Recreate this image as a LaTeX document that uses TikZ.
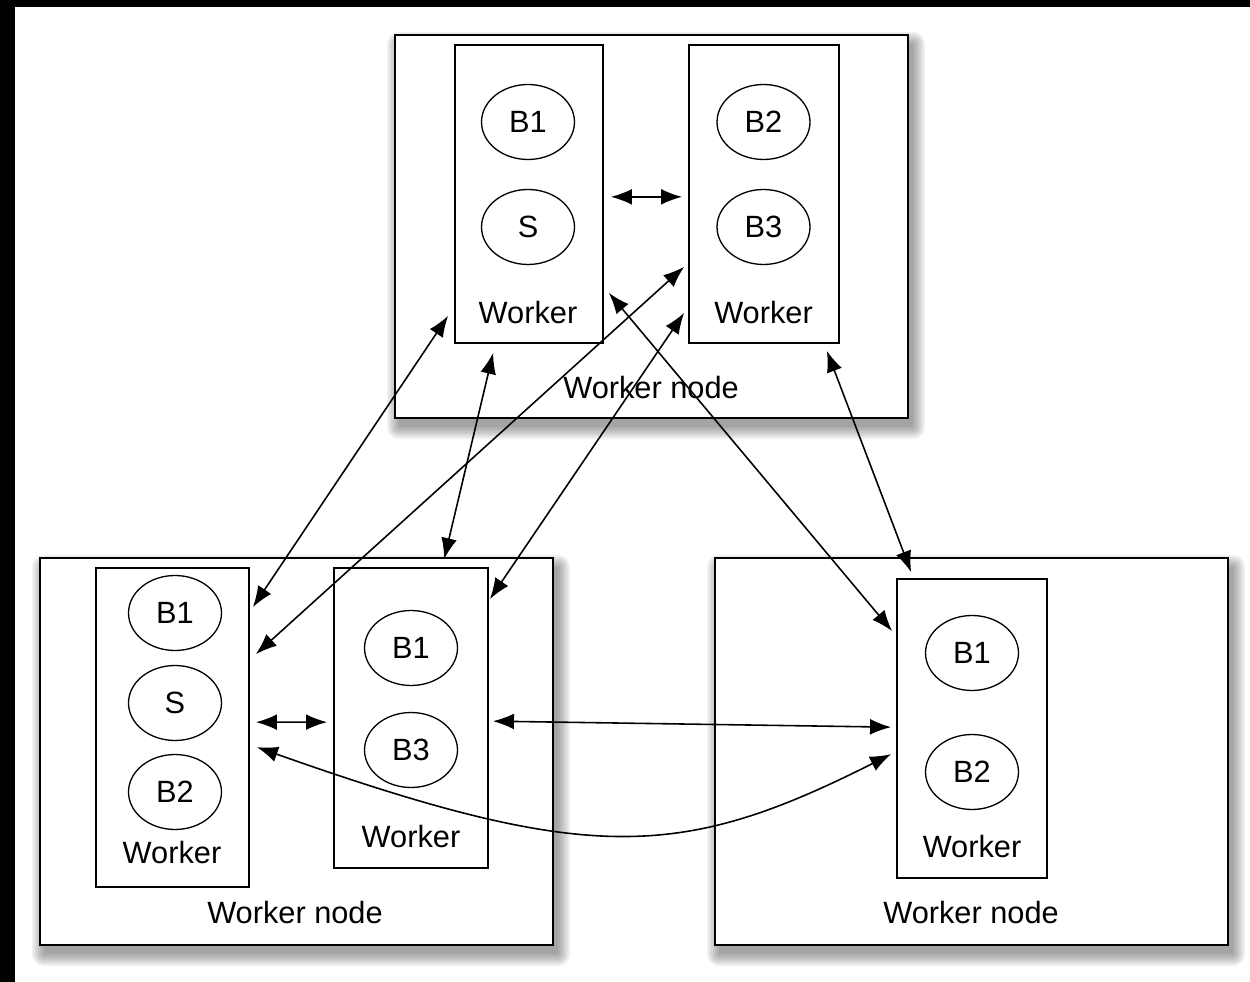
\documentclass[tikz,border=0pt]{standalone}
\usepackage{fontspec}
\setmainfont{Liberation Sans}
\usetikzlibrary{arrows.meta,shapes.geometric,calc}
\pgfdeclarelayer{background}
\pgfsetlayers{background,main}
\begin{document}
\begin{tikzpicture}[x=0.02cm,y=-0.02cm,
  outerbox/.style={draw, line width=1.2pt, fill=white, rectangle, inner sep=0pt},
  workerbox/.style={draw, line width=1pt, fill=white, rectangle, inner sep=0pt},
  blob/.style={draw, ellipse, line width=0.75pt, inner sep=0pt, minimum width=1.86cm, minimum height=1.5cm,
    font=\fontsize{17.5}{20}\selectfont},
  lbl/.style={font=\fontsize{17.5}{20}\selectfont, inner sep=0pt},
  shadowlayer/.style={fill=black, opacity=0.06},
  link/.style={line width=0.9pt, {Latex[length=12pt,width=9pt]}-{Latex[length=12pt,width=9pt]}}]

\useasboundingbox (0,0) rectangle (1250,982);

% outer worker nodes
\node[outerbox, minimum width=10.26cm, minimum height=7.66cm] (topN) at (651.5,226.5) {};
\node[outerbox, minimum width=10.26cm, minimum height=7.74cm] (blN) at (296.5,751.5) {};
\node[outerbox, minimum width=10.26cm, minimum height=7.74cm] (brN) at (971.5,751.5) {};

\begin{pgfonlayer}{background}
\fill[white] (0,0) rectangle (1250,982);
\fill[black] (0,0) rectangle (1250,7);
\fill[black] (0,0) rectangle (15,982);
\foreach \n in {topN,blN,brN}{
  \foreach \r in {0,2,...,12}{
    \fill[shadowlayer, rounded corners=\r*0.02cm]
      ($(\n.north west)+(5-\r,10-\r)$) rectangle ($(\n.south east)+(4+\r,8+\r)$);
  }
}
\end{pgfonlayer}

% worker boxes
\node[workerbox, minimum width=2.96cm, minimum height=5.96cm] (tlw) at (529,194) {};
\node[workerbox, minimum width=3.0cm, minimum height=5.96cm] (trw) at (764,194) {};
\node[workerbox, minimum width=3.06cm, minimum height=6.38cm] (bla) at (172.5,727.5) {};
\node[workerbox, minimum width=3.08cm, minimum height=6.0cm] (blb) at (411,718) {};
\node[workerbox, minimum width=3.0cm, minimum height=5.98cm] (brw) at (972,728.5) {};

% top node contents
\node[blob] (t1) at (528,122) {B1};
\node[blob] (t2) at (528,227) {S};
\node[lbl] (t3) at (528,313) {Worker};
\node[blob] (t4) at (763.5,122) {B2};
\node[blob] (t5) at (763.5,227) {B3};
\node[lbl] (t6) at (763.5,313) {Worker};
\node[lbl] (t7) at (651,388) {Worker node};

% bottom left contents
\node[blob] (l1) at (175,613) {B1};
\node[blob] (l2) at (175,703) {S};
\node[blob] (l3) at (175,792) {B2};
\node[lbl] (l4) at (172,853) {Worker};
\node[blob] (l5) at (411,648) {B1};
\node[blob] (l6) at (411,750) {B3};
\node[lbl] (l7) at (411,837) {Worker};
\node[lbl] (l8) at (295,913) {Worker node};

% bottom right contents
\node[blob] (r1) at (972,653) {B1};
\node[blob] (r2) at (972,772) {B2};
\node[lbl] (r3) at (972,847) {Worker};
\node[lbl] (r4) at (971,913) {Worker node};

% connectors
\draw[link] ($(tlw.south east)+(7,-147)$) -- ($(trw.south west)+(-6,-147)$);
\draw[link] ($(bla.north east)+(6,155)$) -- ($(blb.north west)+(-6,155)$);
\draw[link] ($(tlw.south west)+(-6,-28)$) -- ($(bla.north east)+(3,40)$);
\draw[link] ($(tlw.south west)+(39,9)$) -- ($(blb.north west)+(111,-8)$);
\draw[link] ($(trw.south west)+(-4,-77)$) -- ($(bla.north east)+(6,87)$);
\draw[link] ($(trw.south west)+(-4,-31)$) -- ($(blb.north east)+(1,32)$);
\draw[link] ($(tlw.south east)+(5,-51)$) -- ($(brw.north west)+(-4,53)$);
\draw[link] ($(trw.south east)+(-13,7)$) -- ($(brw.north west)+(15,-6)$);
\draw[link] ($(blb.north east)+(4,154)$) -- ($(brw.north west)+(-5,149)$);
\draw[link] ($(bla.north east)+(7,180)$) .. controls (590,865) and (681,860) .. ($(brw.north west)+(-5,176)$);
\end{tikzpicture}
\end{document}
